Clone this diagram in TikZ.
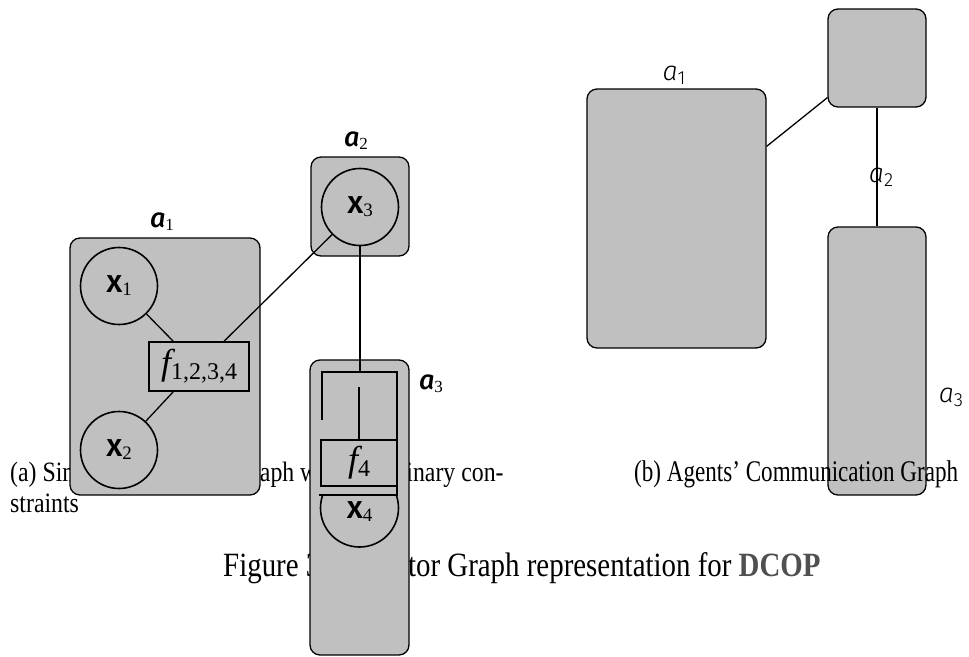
\documentclass[tikz,border=0pt]{standalone}
\usepackage{fontspec}
\setmainfont{Liberation Serif}
\newfontfamily\capfont[FakeStretch=0.85]{Liberation Serif}
\newfontfamily\capfontb[FakeStretch=0.77]{Liberation Serif}
\newfontfamily\labfont{Fira Sans Medium}
\newfontfamily\thinfont{Fira Sans Light}
\usetikzlibrary{positioning}
\definecolor{boxgray}{RGB}{192,192,192}
\definecolor{dcopgray}{RGB}{80,80,80}

% labels of agents, variables and factors
\newcommand\agentlab[1]{{\fontsize{27}{27}\labfont\itshape a}\raisebox{-3pt}{\fontsize{17}{17}\selectfont #1}}
\newcommand\agentthin[1]{{\fontsize{27}{27}\thinfont\itshape a}\raisebox{-4pt}{\fontsize{19}{19}\thinfont #1}}
\newcommand\varlab[1]{{\fontsize{32}{32}\labfont x}\raisebox{-3pt}{\fontsize{19}{19}\selectfont #1}}
\newcommand\faclab[1]{{\fontsize{36}{36}\selectfont\itshape f}\raisebox{-5pt}{\fontsize{24}{24}\selectfont #1}}

\begin{document}
\begin{tikzpicture}[x=1pt, y=-1pt,
    agentbox/.style={draw, fill=boxgray, rounded corners=10pt, line width=1.3pt, inner sep=0pt},
    varnode/.style={draw, circle, line width=1.6pt, minimum size=77pt, inner sep=0pt},
    facnode/.style={draw, rectangle, line width=1.7pt, inner sep=0pt},
    edge/.style={line width=1.3pt},
    caption/.style={inner sep=0pt, anchor=base west, font=\capfont\fontsize{28}{28}\selectfont}]
\useasboundingbox (0,0) rectangle (969,656);

% captions (the left boxes lie over them)
\node[caption] (capa) at (10,481) {(a) Simple\hspace{32pt}Factor\hspace{32pt}Graph with\hspace{52pt}binary con-};
\node[caption] (capa2) at (10,512) {straints};
\node[caption, font=\capfont\fontsize{34}{34}\selectfont] (capfig) at (223,576)
    {Figure 3:\hspace{38pt}Factor Graph representation for \textbf{\color{dcopgray}DCOP}};

% (a) factor graph
\node[agentbox, minimum width=190pt, minimum height=257pt] (a1) at (165,366.5) {};
\node[agentbox, minimum width=98pt, minimum height=99pt] (a2) at (360,206.5) {};
\node[agentbox, minimum width=99pt, minimum height=295pt] (a3) at (359.5,507.5) {};
\node[anchor=base] (la1) at (162,227) {\agentlab{1}};
\node[anchor=base] (la2) at (356,146) {\agentlab{2}};
\node[anchor=base] (la3) at (431,389) {\agentlab{3}};

\node[varnode] (x1) at (119,286) {\varlab{1}};
\node[varnode] (x2) at (119,450) {\varlab{2}};
\node[varnode] (x3) at (360,207) {\varlab{3}};
\node[facnode, minimum width=100pt, minimum height=49pt] (f) at (199,366.5) {\faclab{1,2,3,4}};

\draw[edge] (x1) -- ([xshift=25pt]f.north west);
\draw[edge] ([xshift=25pt]f.south west) -- (x2);
\draw[edge] ([xshift=76pt]f.north west) -- (x3);

\coordinate (brk) at (360,372);
\coordinate (fin) at (359,387);
\draw[edge] (x3) -- (brk);
\draw[line width=1.7pt] (322,420) -- (322,372) -- (397,372) -- (397,496);
\node[facnode, minimum width=76pt, minimum height=46pt] (f4) at (359,463) {\faclab{4}};
\draw[edge] (fin) -- (f4.north);
\draw[line width=1.7pt] (319,495) -- (397,495);
\begin{scope}
    \clip (300,495) rectangle (420,560);
    \node[varnode, minimum size=78pt] (x4) at (359.5,508) {};
\end{scope}
\node (lx4) at (359.5,512) {\varlab{4}};

% (b) communication graph
\node[agentbox, minimum width=179pt, minimum height=259pt] (A1) at (676.5,218.5) {};
\node[agentbox, minimum width=98pt, minimum height=98pt] (A2) at (877,58) {};
\node[agentbox, minimum width=98pt, minimum height=268pt] (A3) at (877,361) {};
\draw[edge] (A1) -- (A2);
\draw[edge] (A2) -- (A3);
\node[anchor=base] (lA1) at (674,80) {\agentthin{1}};
\node[anchor=base] (lA2) at (881,182) {\agentthin{2}};
\node[anchor=base] (lA3) at (951,402) {\agentthin{3}};

\node[caption, font=\capfontb\fontsize{30}{30}\selectfont] (capb) at (634,481) {(b) Agents’ Communication Graph};
\end{tikzpicture}
\end{document}
